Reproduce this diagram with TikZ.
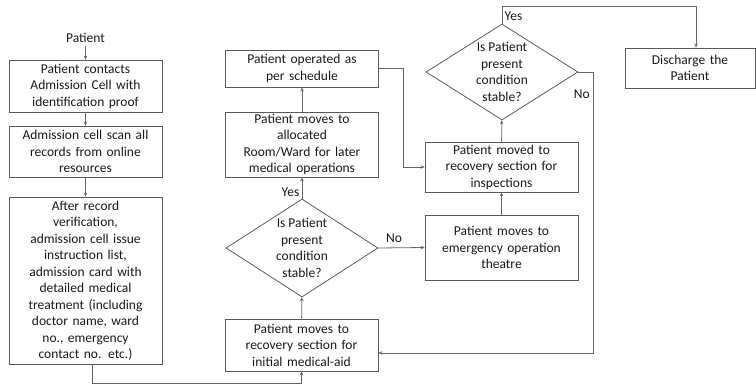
\documentclass[tikz,border=0pt]{standalone}
\usepackage{fontspec}
\setmainfont{Carlito}
\usepackage{tikz}
\usetikzlibrary{shapes.geometric, positioning, arrows.meta, calc}
\tikzset{
	>={Stealth[length=4pt,width=3.5pt]},
	x=1pt, y=1pt,
	every node/.style={font=\fontsize{13.5}{16.5}\selectfont, text=black!90},
	flow/.style={draw=black!65, line width=0.8pt},
	box/.style={flow, rectangle, align=center, text width=146pt, minimum width=153pt, inner sep=2pt},
	decision/.style={flow, diamond, minimum width=152pt, minimum height=98pt, inner sep=0pt},
	qtext/.style={align=center},
	link/.style={->, draw=black!60, line width=0.8pt},
}
\begin{document}
\begin{tikzpicture}
			\useasboundingbox (0,0) rectangle (756,-386);
			\node (PATIENT) at (85.5,-38) {Patient};
			\node[box, minimum height=52pt] (CONTACT) at (85.5,-86) {Patient contacts\\Admission Cell with\\identification proof};
			\node[box, minimum height=51pt] (SCAN) at (85.5,-151.5) {Admission cell scan all\\records from online\\resources};
			\node[box, minimum height=167pt] (VERIFY) at (85.5,-280.5) {After record\\verification,\\admission cell issue\\instruction list,\\admission card with\\detailed medical\\treatment (including\\doctor name, ward\\no., emergency\\contact no. etc.)};
			\node[box, minimum height=52pt] (REC1) at (301.5,-345) {Patient moves to\\recovery section for\\initial medical-aid};
			\node[decision] (DEC1) at (302,-248) {};
			\node[qtext] (Q1) at (DEC1) {Is Patient\\present\\condition\\stable?};
			\node[box, minimum height=65pt] (WARD) at (302,-144.5) {Patient moves to\\allocated\\Room/Ward for later\\medical operations};
			\node[box, minimum height=37pt] (OPER) at (302,-68.5) {Patient operated as\\per schedule};
			\node[box, minimum height=65pt] (EMERG) at (501.5,-247.5) {Patient moves to\\emergency operation\\theatre};
			\node[box, minimum height=50pt] (REC2) at (501.5,-167) {Patient moved to\\recovery section for\\inspections};
			\node[decision, minimum height=96pt] (DEC2) at (502,-72) {};
			\node[qtext] (Q2) at (DEC2) {Is Patient\\present\\condition\\stable?};
			\node[box, text width=124pt, minimum width=130pt, minimum height=40pt] (DISCH) at (690,-68) {Discharge the\\Patient};

			\draw[link] (PATIENT) -- (CONTACT);
			\draw[link] (CONTACT) -- (SCAN);
			\draw[link] (SCAN) -- (VERIFY);
			\draw[link] ([xshift=6.5pt]VERIFY.south) -- ++(0,-19) -| (REC1.south);
			\draw[link] (REC1) -- (DEC1);
			\draw[link] (DEC1) -- node[pos=0.3, left, xshift=1pt] (YES1) {Yes} (WARD);
			\draw[link] (WARD) -- (OPER);
			\draw[link] (OPER.east) -- ++(24,0) |- (REC2.west);
			\draw[link] (DEC1.east) -- node[pos=0.34, above, yshift=2pt] (NO1) {No} (EMERG.west);
			\draw[link] (EMERG) -- (REC2);
			\draw[link] (REC2) -- (DEC2);
			\draw[link] (DEC2.north) -- node[pos=0.45, right, xshift=-1pt] (YES2) {Yes} ++(0,17) -| ([xshift=6pt]DISCH.north);
			\draw[link] (DEC2.east) -- ++(15,0) |- node[pos=0.04, left, xshift=0pt] (NO2) {No} ([yshift=-8pt]REC1.east);
		\end{tikzpicture}
\end{document}
